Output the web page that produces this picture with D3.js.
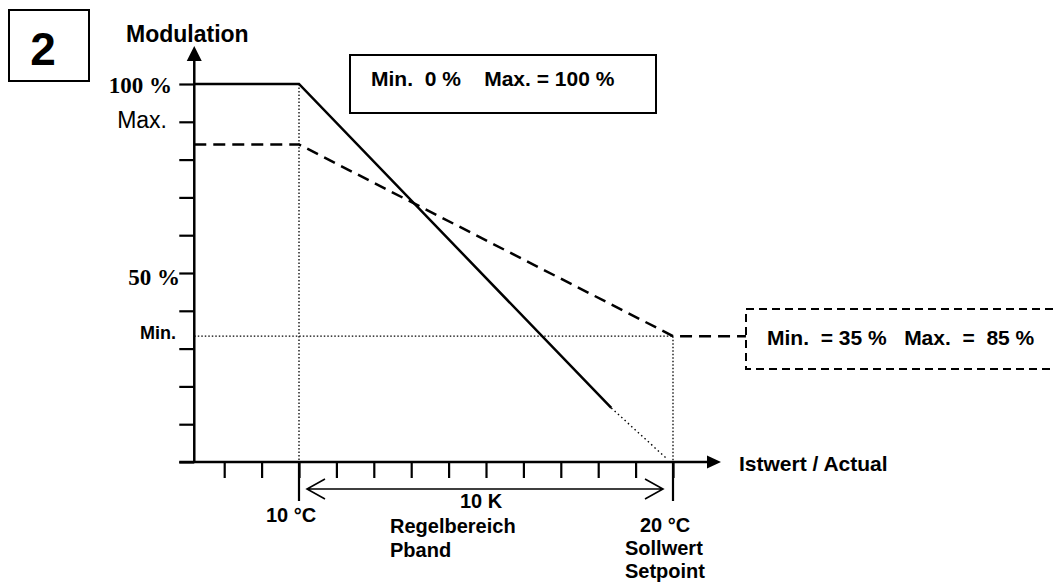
<!DOCTYPE html>
<html>
<head>
<meta charset="utf-8">
<script src="https://cdn.jsdelivr.net/npm/d3@7"></script>
<style>
  body { margin: 0; background: #fff; }
  text { font-family: "Liberation Sans", Arial, sans-serif; font-weight: bold; fill: #000; }
</style>
</head>
<body>
<div id="chart"></div>
<script>
// data (x = temperature in °C, y = modulation in %)
const xTicks = [8, 9, 10, 11, 12, 13, 14, 15, 16, 17, 18, 19, 20];
const yTicks = [0, 10, 20, 30, 40, 50, 60, 70, 80, 90, 100];
const markedTemps = [10, 20];
const tempLabels = ["10 °C", "20 °C"];
const solidLine = [[7.2, 100], [10, 100], [18.35, 14.3]];
const solidTail = [[18.35, 14.3], [19.8, 1.2]];
const dashedLine = [[7.2, 84], [10, 84], [20, 33.3], [21.95, 33.3]];
const minLevel = 33.3;
const yLabelValues = [100, 90, 50, 33.3];
const yLabelTexts = ["100 %", "Max.", "50 %", "Min."];
const bandText = ["10 K", "Regelbereich", "Pband"];
const setpointText = ["Sollwert", "Setpoint"];

let w = 1054, h = 585;
let svg = d3.select("#chart").append("svg")
    .attr("width", w)
    .attr("height", h);

let x = d3.scaleLinear().domain([10, 20]).range([299, 673]);
let y = d3.scaleLinear().domain([0, 100]).range([462, 84]);
let x0 = x(7.2), y0 = y(0);

// box with the number
svg.append("rect").attr("x", 9).attr("y", 10).attr("width", 80).attr("height", 71)
    .attr("fill", "none").attr("stroke", "#000").attr("stroke-width", 2);
svg.append("text").attr("x", 43).attr("y", 65).attr("text-anchor", "middle")
    .style("font-size", "46px").text("2");

// guide lines (dotted)
let dotted = {stroke: "#000", "stroke-width": 1.3, "stroke-dasharray": "1.5,2"};
function dottedLine(x1, y1, x2, y2) {
    let l = svg.append("line").attr("x1", x1).attr("y1", y1).attr("x2", x2).attr("y2", y2);
    for (let k in dotted) l.attr(k, dotted[k]);
}
dottedLine(x(10), y(100), x(10), y0 + 38);
dottedLine(x0, y(minLevel), x(20), y(minLevel));
dottedLine(x(20), y(minLevel), x(20), y0);

// axes: ticks via d3 axes
let yAxis = d3.axisLeft(y).tickValues(yTicks).tickSize(15).tickFormat("");
let xAxis = d3.axisBottom(x).tickValues(xTicks).tickSize(16).tickFormat("");
let gy = svg.append("g").attr("transform", `translate(${x0},0)`).call(yAxis);
let gx = svg.append("g").attr("transform", `translate(0,${y0})`).call(xAxis);
[gy, gx].forEach(g => {
    g.select(".domain").remove();
    g.selectAll(".tick line").attr("stroke", "#000").attr("stroke-width", 2.2);
});

// long ticks at 10 °C and 20 °C
svg.selectAll(".long_tick").data(markedTemps).enter().append("line")
    .attr("x1", d => x(d)).attr("x2", d => x(d))
    .attr("y1", y0).attr("y2", y0 + 39)
    .attr("stroke", "#000").attr("stroke-width", 2.2);

// axis lines with arrow heads
svg.append("line").attr("x1", x0).attr("y1", y0).attr("x2", x0).attr("y2", 58)
    .attr("stroke", "#000").attr("stroke-width", 2.5);
svg.append("path").attr("d", `M${x0},46 L${x0 - 7.5},61 L${x0 + 7.5},61 Z`).attr("fill", "#000");
svg.append("line").attr("x1", x0 - 15).attr("y1", y0).attr("x2", 710).attr("y2", y0)
    .attr("stroke", "#000").attr("stroke-width", 2.5);
svg.append("path").attr("d", `M721,${y0} L707,${y0 - 6.5} L707,${y0 + 6.5} Z`).attr("fill", "#000");

// y labels
let yLabelDx = [172, 167, 180, 176];
let yLabelDy = [9, 6, 12, 3];
let yLabelFont = [
    {family: "'Liberation Serif', 'Times New Roman', serif", size: "23px", weight: "bold"},
    {family: "'Liberation Sans', Arial, sans-serif", size: "23px", weight: "normal"},
    {family: "'Liberation Serif', 'Times New Roman', serif", size: "23px", weight: "bold"},
    {family: "'Liberation Sans', Arial, sans-serif", size: "18px", weight: "bold"}
];
svg.selectAll(".y_label").data(yLabelValues).enter().append("text")
    .attr("x", (d, i) => yLabelDx[i])
    .attr("y", (d, i) => y(d) + yLabelDy[i])
    .attr("text-anchor", "end")
    .style("font-family", (d, i) => yLabelFont[i].family)
    .style("font-size", (d, i) => yLabelFont[i].size)
    .style("font-weight", (d, i) => yLabelFont[i].weight)
    .text((d, i) => yLabelTexts[i]);

svg.append("text").attr("x", 126).attr("y", 42).style("font-size", "23px").text("Modulation");

// the two curves
let line = d3.line().x(d => x(d[0])).y(d => y(d[1]));
svg.append("path").datum(solidLine).attr("d", line)
    .attr("fill", "none").attr("stroke", "#000").attr("stroke-width", 2.5);
svg.append("path").datum(solidTail).attr("d", line)
    .attr("fill", "none").attr("stroke", "#000").attr("stroke-width", 1.4).attr("stroke-dasharray", "1.5,3");
svg.append("path").datum(dashedLine).attr("d", line)
    .attr("fill", "none").attr("stroke", "#000").attr("stroke-width", 2.5).attr("stroke-dasharray", "12,7");

// info boxes
svg.append("rect").attr("x", 350).attr("y", 55).attr("width", 306).attr("height", 58)
    .attr("fill", "none").attr("stroke", "#000").attr("stroke-width", 2);
svg.append("text").attr("x", 371).attr("y", 86).style("font-size", "21px")
    .attr("xml:space", "preserve").text("Min.  0 %    Max. = 100 %");

svg.append("rect").attr("x", 746).attr("y", 309).attr("width", 330).attr("height", 60)
    .attr("fill", "none").attr("stroke", "#000").attr("stroke-width", 2).attr("stroke-dasharray", "8,5");
svg.append("text").attr("x", 767).attr("y", 345).style("font-size", "21px")
    .attr("xml:space", "preserve").text("Min.  = 35 %   Max.  =  85 %");

// x axis label
svg.append("text").attr("x", 739).attr("y", 471).style("font-size", "21px").text("Istwert / Actual");

// double arrow for the proportional band
let ay = 489;
let ax1 = x(10) + 8, ax2 = x(20) - 10;
svg.append("path")
    .attr("d", `M${ax1},${ay} L${ax2},${ay} M${ax1 + 18},${ay - 10} L${ax1},${ay} L${ax1 + 18},${ay + 10} M${ax2 - 18},${ay - 10} L${ax2},${ay} L${ax2 - 18},${ay + 10}`)
    .attr("fill", "none").attr("stroke", "#000").attr("stroke-width", 1.6);

// temperature labels
svg.selectAll(".temp_label").data(markedTemps).enter().append("text")
    .attr("x", d => x(d) - 8).attr("y", (d, i) => i == 0 ? 522 : 532)
    .attr("text-anchor", "middle").style("font-size", "20px")
    .text((d, i) => tempLabels[i]);

svg.selectAll(".band_label").data(bandText).enter().append("text")
    .attr("x", (d, i) => i == 0 ? 481 : 390)
    .attr("y", (d, i) => [508, 533, 557][i])
    .attr("text-anchor", (d, i) => i == 0 ? "middle" : "start")
    .style("font-size", "20px")
    .text(d => d);

svg.selectAll(".setpoint_label").data(setpointText).enter().append("text")
    .attr("x", 625).attr("y", (d, i) => 555 + i * 23)
    .style("font-size", "20px")
    .text(d => d);
</script>
</body>
</html>
